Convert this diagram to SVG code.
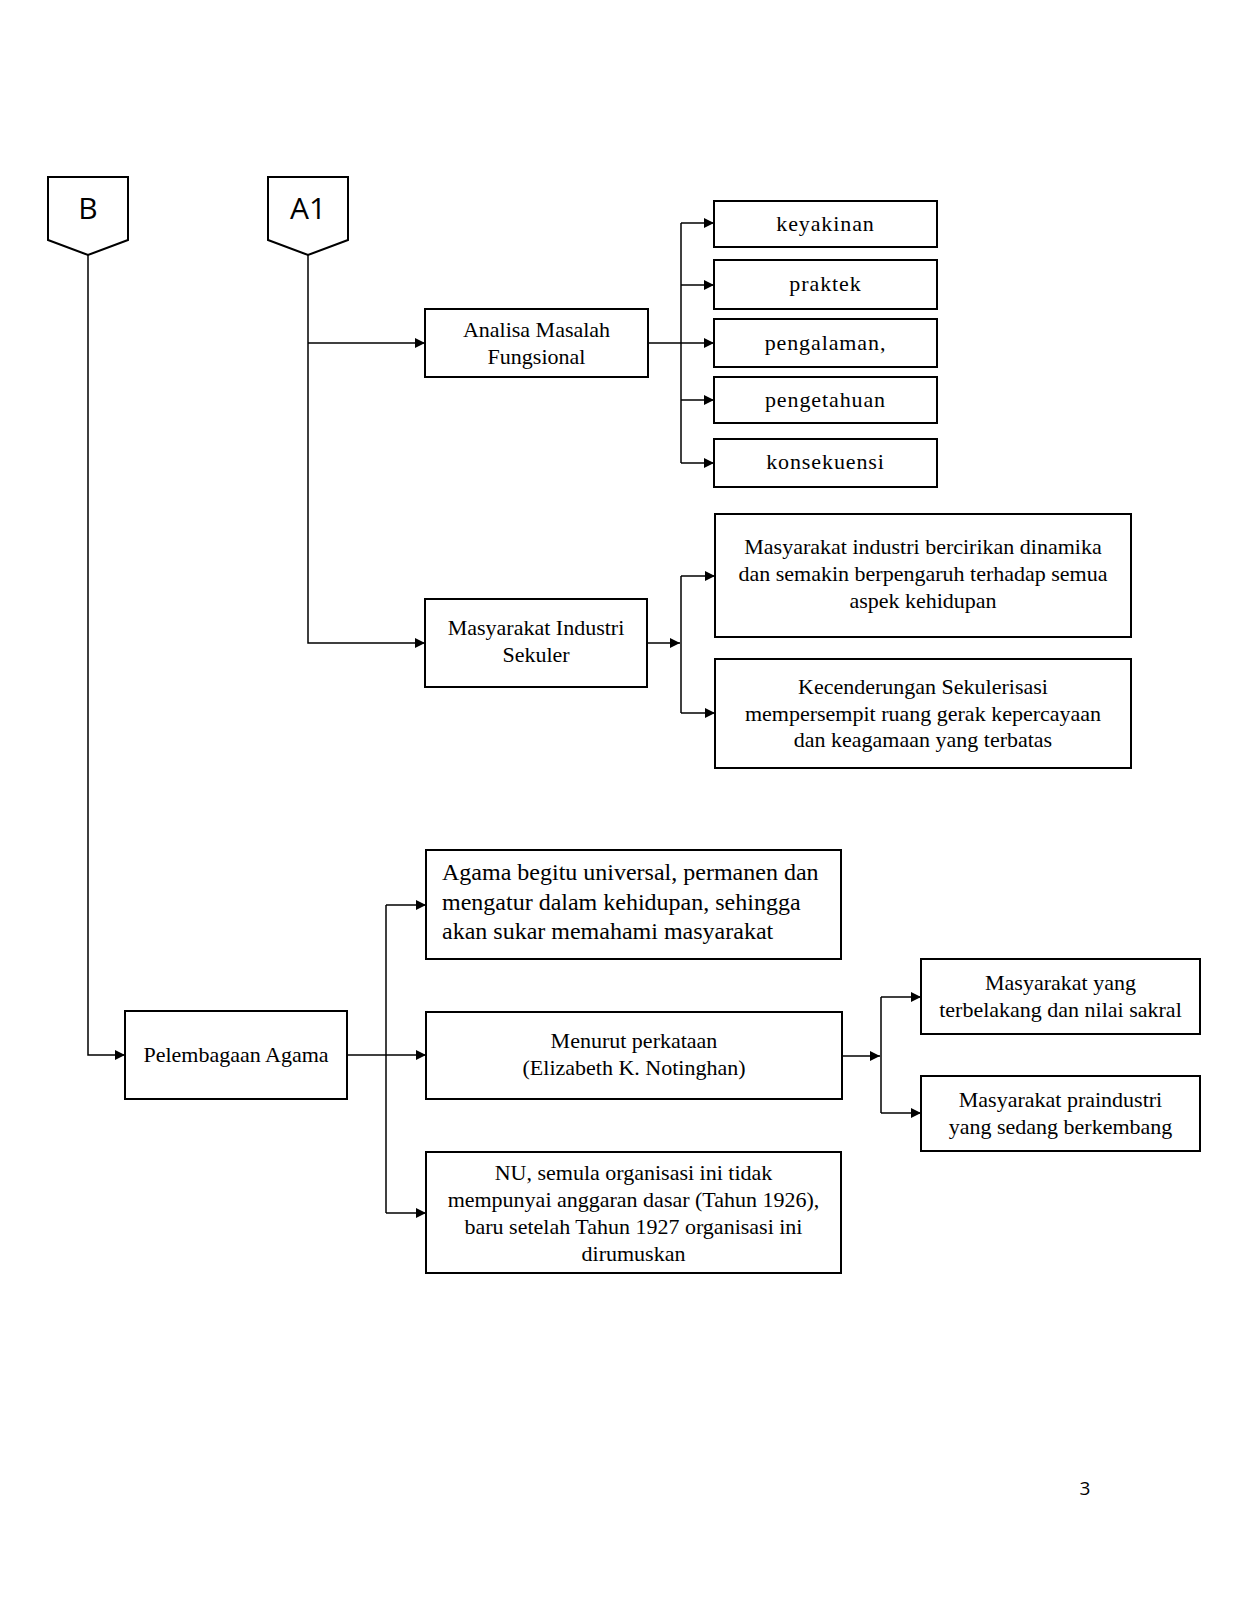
<svg xmlns="http://www.w3.org/2000/svg" width="1237" height="1600" viewBox="0 0 1237 1600">
<style>
.box{fill:#fff;stroke:#000;stroke-width:2}
.conn{fill:none;stroke:#000;stroke-width:1.5}
.t{font-family:"Liberation Serif","Times New Roman",serif;font-size:22px;fill:#000;text-anchor:middle}
.s{letter-spacing:0.9px}
.big{font-size:24px;text-anchor:start}
.lbl{font-family:"Open Sans","Liberation Sans",sans-serif;font-size:30px;fill:#000;text-anchor:middle}
.pg{font-family:"Open Sans","Liberation Sans",sans-serif;font-size:19px;fill:#000;text-anchor:middle}
</style>
<defs>
<marker id="ah" viewBox="0 0 10 10" refX="10" refY="5" markerWidth="10" markerHeight="10" markerUnits="userSpaceOnUse" orient="auto">
<path d="M0,0 L10,5 L0,10 z" fill="#000"/>
</marker>
</defs>
<rect width="1237" height="1600" fill="#fff"/>
<g id="connectors">
<path class="conn" d="M88,255 V1055 H125" marker-end="url(#ah)"/>
<path class="conn" d="M308,255 V643 H425" marker-end="url(#ah)"/>
<path class="conn" d="M308,343 H425" marker-end="url(#ah)"/>
<path class="conn" d="M648,343 H714" marker-end="url(#ah)"/>
<path class="conn" d="M681,223 V463"/>
<path class="conn" d="M681,223 H714" marker-end="url(#ah)"/>
<path class="conn" d="M681,285 H714" marker-end="url(#ah)"/>
<path class="conn" d="M681,400 H714" marker-end="url(#ah)"/>
<path class="conn" d="M681,463 H714" marker-end="url(#ah)"/>
<path class="conn" d="M647,643 H680" marker-end="url(#ah)"/>
<path class="conn" d="M681,576 V713"/>
<path class="conn" d="M681,576 H715" marker-end="url(#ah)"/>
<path class="conn" d="M681,713 H715" marker-end="url(#ah)"/>
<path class="conn" d="M347,1055 H426" marker-end="url(#ah)"/>
<path class="conn" d="M386,905 V1213"/>
<path class="conn" d="M386,905 H426" marker-end="url(#ah)"/>
<path class="conn" d="M386,1213 H426" marker-end="url(#ah)"/>
<path class="conn" d="M842,1056 H880" marker-end="url(#ah)"/>
<path class="conn" d="M881,997 V1113"/>
<path class="conn" d="M881,997 H921" marker-end="url(#ah)"/>
<path class="conn" d="M881,1113 H921" marker-end="url(#ah)"/>
</g>
<g id="B">
<path class="box" d="M48,177 H128 V240 L88,255 L48,240 Z"/>
<text class="lbl" x="88" y="219">B</text>
</g>
<g id="A1">
<path class="box" d="M268,177 H348 V240 L308,255 L268,240 Z"/>
<text class="lbl" x="308" y="219">A1</text>
</g>
<g id="analisa">
<rect class="box" x="425" y="309" width="223" height="68"/>
<text class="t" x="536.5" y="337">Analisa Masalah</text>
<text class="t" x="536.5" y="364">Fungsional</text>
</g>
<g id="keyakinan">
<rect class="box" x="714" y="201" width="223" height="46"/>
<text class="t s" x="825.5" y="231">keyakinan</text>
</g>
<g id="praktek">
<rect class="box" x="714" y="260" width="223" height="49"/>
<text class="t s" x="825.5" y="291">praktek</text>
</g>
<g id="pengalaman">
<rect class="box" x="714" y="319" width="223" height="48"/>
<text class="t s" x="825.5" y="350">pengalaman,</text>
</g>
<g id="pengetahuan">
<rect class="box" x="714" y="377" width="223" height="46"/>
<text class="t s" x="825.5" y="407">pengetahuan</text>
</g>
<g id="konsekuensi">
<rect class="box" x="714" y="439" width="223" height="48"/>
<text class="t s" x="825.5" y="469">konsekuensi</text>
</g>
<g id="masyarakat-industri">
<rect class="box" x="425" y="599" width="222" height="88"/>
<text class="t" x="536" y="635">Masyarakat Industri</text>
<text class="t" x="536" y="662">Sekuler</text>
</g>
<g id="dinamika">
<rect class="box" x="715" y="514" width="416" height="123"/>
<text class="t" x="923" y="554">Masyarakat industri bercirikan dinamika</text>
<text class="t" x="923" y="581">dan semakin berpengaruh terhadap semua</text>
<text class="t" x="923" y="608">aspek kehidupan</text>
</g>
<g id="sekulerisasi">
<rect class="box" x="715" y="659" width="416" height="109"/>
<text class="t" x="923" y="694">Kecenderungan Sekulerisasi</text>
<text class="t" x="923" y="721">mempersempit ruang gerak kepercayaan</text>
<text class="t" x="923" y="747">dan keagamaan yang terbatas</text>
</g>
<g id="pelembagaan">
<rect class="box" x="125" y="1011" width="222" height="88"/>
<text class="t" x="236" y="1062">Pelembagaan Agama</text>
</g>
<g id="agama-universal">
<rect class="box" x="426" y="850" width="415" height="109"/>
<text class="t big" x="442" y="880">Agama begitu universal, permanen dan</text>
<text class="t big" x="442" y="910">mengatur dalam kehidupan, sehingga</text>
<text class="t big" x="442" y="939">akan sukar memahami masyarakat</text>
</g>
<g id="menurut">
<rect class="box" x="426" y="1012" width="416" height="87"/>
<text class="t" x="634" y="1048">Menurut perkataan</text>
<text class="t" x="634" y="1075">(Elizabeth K. Notinghan)</text>
</g>
<g id="nu">
<rect class="box" x="426" y="1152" width="415" height="121"/>
<text class="t" x="633.5" y="1180">NU, semula organisasi ini tidak</text>
<text class="t" x="633.5" y="1207">mempunyai anggaran dasar (Tahun 1926),</text>
<text class="t" x="633.5" y="1234">baru setelah Tahun 1927 organisasi ini</text>
<text class="t" x="633.5" y="1261">dirumuskan</text>
</g>
<g id="terbelakang">
<rect class="box" x="921" y="959" width="279" height="75"/>
<text class="t" x="1060.5" y="990">Masyarakat yang</text>
<text class="t" x="1060.5" y="1017">terbelakang dan nilai sakral</text>
</g>
<g id="praindustri">
<rect class="box" x="921" y="1076" width="279" height="75"/>
<text class="t" x="1060.5" y="1107">Masyarakat praindustri</text>
<text class="t" x="1060.5" y="1134">yang sedang berkembang</text>
</g>
<text class="pg" x="1085" y="1495">3</text>
</svg>
